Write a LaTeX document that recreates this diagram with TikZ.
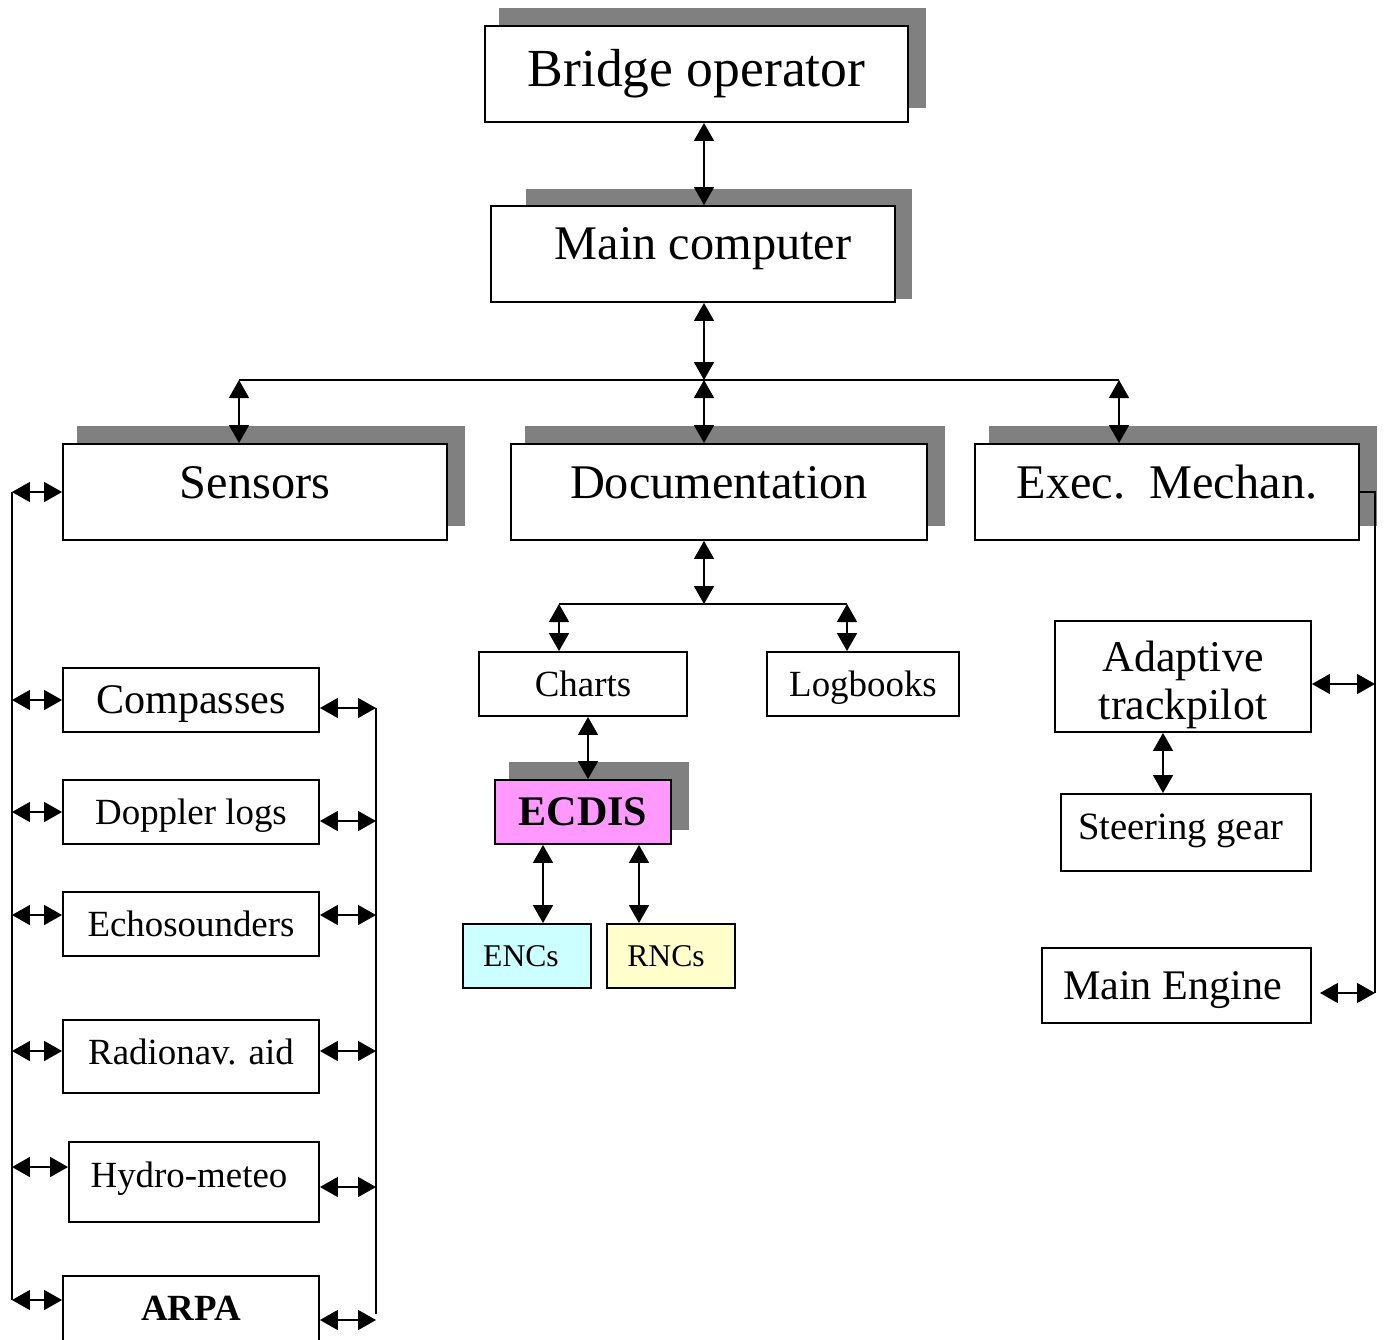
\documentclass[tikz,border=0pt]{standalone}
\usepackage{fontspec}
\setmainfont{Liberation Serif}
\usetikzlibrary{arrows.meta,backgrounds}
\definecolor{shadowGray}{RGB}{128,128,128}
\definecolor{ecdisPink}{RGB}{255,153,255}
\definecolor{encCyan}{RGB}{204,255,255}
\definecolor{rncYellow}{RGB}{255,255,204}

\begin{document}
\begin{tikzpicture}[x=0.02cm, y=-0.02cm]
  \tikzset{box/.style={draw, fill=white, line width=1.1pt, inner sep=0pt},
    big box/.style={box, minimum height=1.92cm, font=\fontsize{27.5}{33}\selectfont, text height=18.2pt, text depth=0.38cm},
    small box/.style={box, minimum height=1.28cm, minimum width=5.12cm, font=\fontsize{21}{25}\selectfont, text height=13.9pt, text depth=0pt},
    box shadow/.style={fill=shadowGray},
    link/.style={line width=0.9pt, <->, >={Triangle[length=0.36cm,width=0.4cm]}},
    wire/.style={line width=0.9pt}}

  \useasboundingbox (0,0) rectangle (1385,1339);
  \clip (0,0) rectangle (1385,1339);

  \node[big box, minimum width=8.46cm, font=\fontsize{30.5}{36}\selectfont, text height=20.2pt, text depth=0.22cm] at (696.5,74) (op) {Bridge operator};
  \node[big box, minimum width=8.08cm, text depth=0.4cm] at (693,254) (mc) {\hspace*{0.4cm}Main computer};
  \node[big box, minimum width=7.68cm] at (255,492) (sens) {Sensors};
  \node[big box, minimum width=8.32cm] at (719,492) (doc) {Documentation};
  \node[big box, minimum width=7.68cm] at (1167,492) (exec) {Exec.\ \ Mechan.};

  % documentation
  \node[small box, minimum width=4.16cm] at (583,684) (charts) {Charts};
  \node[small box, minimum width=3.84cm] at (863,684) (logb) {Logbooks};
  \node[small box, minimum width=3.52cm, fill=ecdisPink, font=\fontsize{24}{29}\selectfont\bfseries, text height=15.9pt] at (583,812) (ecdis) {ECDIS};
  \node[small box, minimum width=2.56cm, fill=encCyan, font=\fontsize{18}{22}\selectfont, text height=11.9pt] at (527,956) (encs) {ENCs\hspace*{0.24cm}};
  \node[small box, minimum width=2.56cm, fill=rncYellow, font=\fontsize{18}{22}\selectfont, text height=11.9pt] at (671,956) (rncs) {RNCs\hspace*{0.2cm}};

  % sensors
  \node[small box, font=\fontsize{24}{29}\selectfont, text height=15.9pt] at (191,700) (comp) {Compasses};
  \node[small box] at (191,812) (dopp) {Doppler logs};
  \node[small box] at (191,924) (echo) {Echosounders};
  \node[small box, minimum height=1.46cm, text depth=0.18cm] at (191,1056.5) (radio) {Radionav. aid};
  \node[small box, minimum width=5cm, minimum height=1.6cm, text depth=0.28cm] at (194,1182) (hydro) {Hydro-meteo\hspace*{0.2cm}};
  \node[small box, minimum height=1.3cm, font=\fontsize{21}{25}\selectfont\bfseries] at (191,1308.5) (arpa) {ARPA};

  % exec. mechanisms
  \node[box, minimum width=5.12cm, minimum height=2.22cm, font=\fontsize{25}{27.3}\selectfont, align=center] at (1183,676.5) (adapt) {\rule{0pt}{0.96cm}Adaptive\\trackpilot};
  \node[small box, minimum width=5cm, minimum height=1.54cm, font=\fontsize{22}{26}\selectfont, text height=14.6pt, text depth=0.24cm] at (1186,832.5) (steer) {Steering gear\hspace*{0.22cm}};
  \node[small box, minimum width=5.38cm, minimum height=1.5cm, font=\fontsize{24}{29}\selectfont, text height=15.9pt] at (1176.5,985.5) (engine) {Main Engine\hspace*{0.16cm}};

  \begin{scope}[on background layer]
    \foreach \n in {op,sens,doc,exec,ecdis}
      \fill[box shadow] ([shift={(0.3cm,0.34cm)}]\n.north west) rectangle ([shift={(0.34cm,0.3cm)}]\n.south east);
    \fill[box shadow] ([shift={(0.72cm,0.32cm)}]mc.north west) rectangle ([shift={(0.32cm,0.08cm)}]mc.south east);
  \end{scope}

  \coordinate (trunk) at (704,380);
  \coordinate (busW) at (239,380);
  \coordinate (busE) at (1119,380);
  \draw[link] (op.south -| trunk) -- (mc.north -| trunk);
  \draw[link] (mc.south -| trunk) -- (trunk);
  \draw[wire] (busW) -- (busE);
  \draw[link] (trunk) -- (doc.north -| trunk);
  \draw[link] (busW) -- (sens.north -| busW);
  \draw[link] (busE) -- (exec.north -| busE);

  \coordinate (docbus) at (704,604);
  \coordinate (chartsbus) at (559,604);
  \coordinate (logbus) at (847,604);
  \draw[link] (doc.south -| docbus) -- (docbus);
  \draw[wire] (chartsbus) -- (logbus);
  \draw[link] (chartsbus) -- (charts.north -| chartsbus);
  \draw[link] (logbus) -- (logb.north -| logbus);
  \draw[link] ([xshift=0.1cm]charts.south) -- ([xshift=0.1cm]ecdis.north);
  \draw[link] ([xshift=-0.8cm]ecdis.south) -- ([xshift=-0.8cm]ecdis.south |- encs.north);
  \draw[link] ([xshift=1.12cm]ecdis.south) -- ([xshift=1.12cm]ecdis.south |- rncs.north);

  \coordinate (lbus) at (12,0);
  \coordinate (rbus) at (376,0);
  \draw[wire] (sens.west -| lbus) -- ([yshift=0.17cm]arpa.west -| lbus);
  \draw[wire] ([yshift=-0.16cm]comp.east -| rbus) -- ([yshift=-0.1cm]arpa.east -| rbus);
  \draw[link] (sens.west) -- (sens.west -| lbus);
  \foreach \n/\dy in {comp/0, dopp/0, echo/0.18, radio/0.11, hydro/0.3, arpa/0.17}
    \draw[link] ([yshift=\dy cm]\n.west) -- ([yshift=\dy cm]\n.west -| lbus);
  \foreach \n/\dy in {comp/-0.16, dopp/-0.18, echo/0.18, radio/0.11, hydro/-0.1, arpa/-0.23}
    \draw[link] ([yshift=\dy cm]\n.east) -- ([yshift=\dy cm]\n.east -| rbus);

  \coordinate (ebus) at (1375,0);
  \draw[wire] (exec.east) -- (exec.east -| ebus) -- ([yshift=-0.15cm]engine.east -| ebus);
  \draw[link] ([yshift=-0.15cm]adapt.east) -- ([yshift=-0.15cm]adapt.east -| ebus);
  \draw[link] ([shift={(0.16cm,-0.15cm)}]engine.east) -- ([yshift=-0.15cm]engine.east -| ebus);
  \draw[link] ([xshift=-0.4cm]adapt.south) -- ([xshift=-0.4cm]adapt.south |- steer.north);
\end{tikzpicture}
\end{document}
